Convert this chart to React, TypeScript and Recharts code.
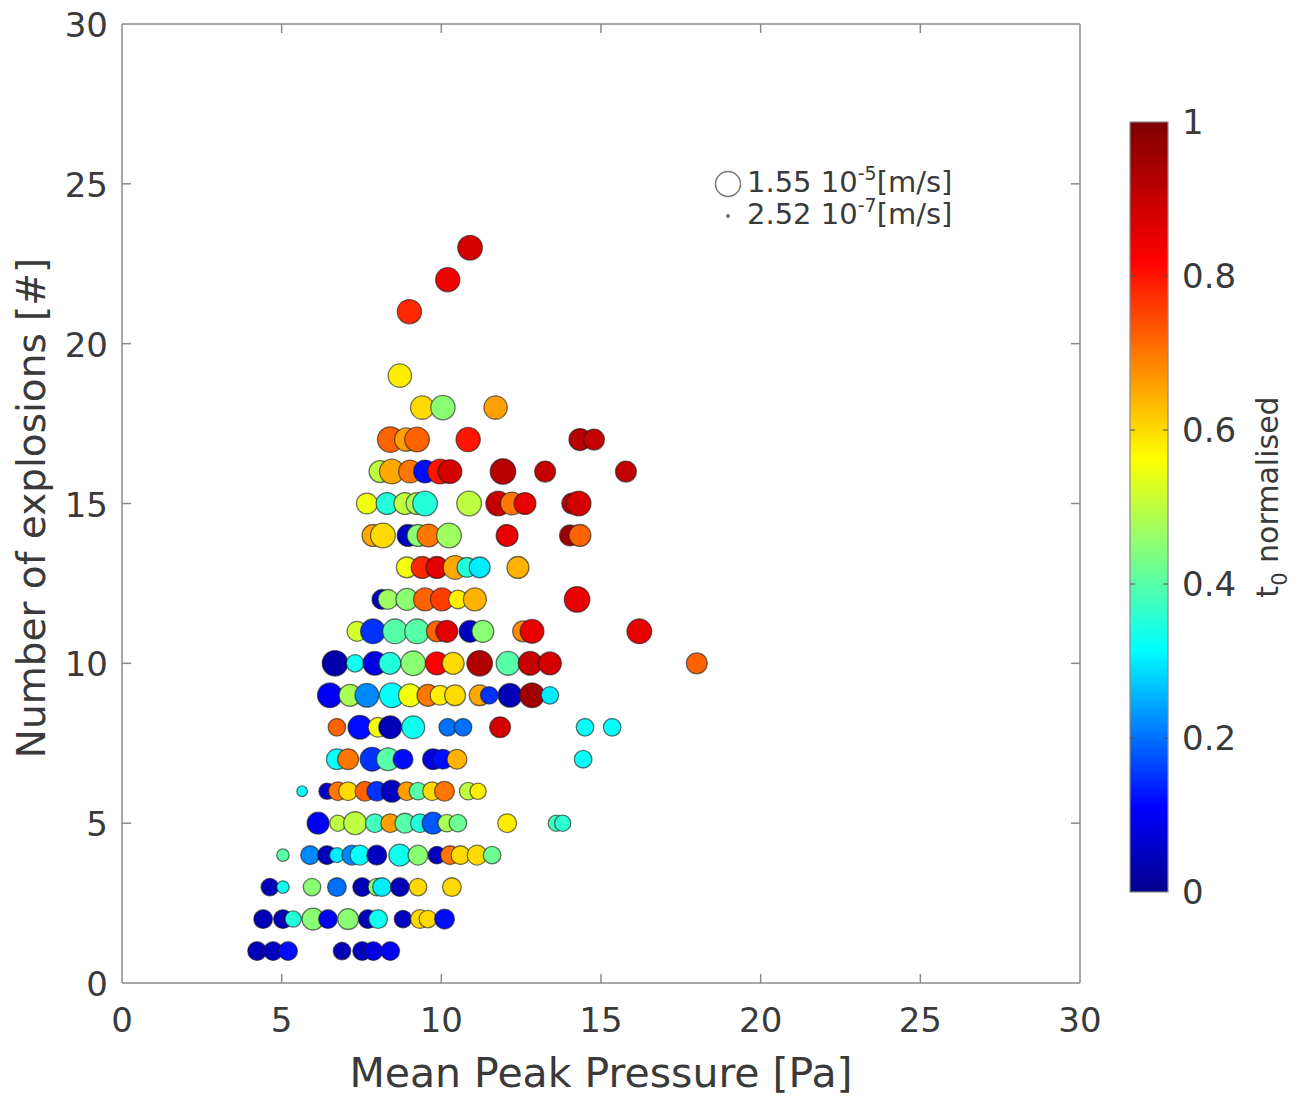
import React from "react";
import {
  ScatterChart,
  Scatter,
  XAxis,
  YAxis,
  ZAxis,
  ReferenceLine,
} from "recharts";

// one row per explosion count; values in each row share the same index
const EXPLOSIONS = [23, 22, 21, 19, 18, 17, 16, 15, 14, 13, 12, 11, 10, 9, 8, 7, 6, 5, 4, 3, 2, 1];

const PRESSURE = [
  [10.9],
  [10.2],
  [9.0],
  [8.7],
  [9.4, 10.05, 11.7],
  [8.4, 8.9, 9.24, 10.84, 14.34, 14.78],
  [8.08, 8.45, 9.02, 9.49, 9.96, 10.27, 11.93, 13.25, 15.78],
  [7.67, 8.3, 8.86, 9.24, 9.49, 10.87, 11.78, 12.21, 12.62, 14.1, 14.3],
  [7.86, 8.17, 8.96, 9.27, 9.6, 10.24, 12.06, 14.03, 14.34],
  [8.92, 9.4, 9.86, 10.43, 10.8, 11.2, 12.4],
  [8.14, 8.33, 8.92, 9.49, 10.02, 10.52, 11.05, 14.25],
  [7.36, 7.86, 8.55, 9.24, 9.86, 10.17, 10.9, 11.3, 12.56, 12.84, 16.2],
  [6.67, 7.3, 7.92, 8.39, 9.12, 9.86, 10.37, 11.2, 12.09, 12.78, 13.4, 18.0],
  [6.51, 7.14, 7.67, 8.45, 9.02, 9.58, 9.96, 10.43, 11.2, 11.5, 12.15, 12.84, 13.4],
  [6.73, 7.45, 8.02, 8.4, 9.12, 10.2, 10.68, 11.84, 14.5, 15.35],
  [6.73, 7.08, 7.83, 8.33, 8.8, 9.74, 10.05, 10.49, 14.44],
  [5.64, 6.42, 6.76, 7.08, 7.61, 7.98, 8.45, 8.92, 9.27, 9.71, 10.1, 10.84, 11.15],
  [6.14, 6.76, 7.3, 7.92, 8.4, 8.86, 9.33, 9.74, 10.17, 10.52, 12.06, 13.6, 13.8],
  [5.04, 5.89, 6.42, 6.73, 7.2, 7.45, 7.98, 8.7, 9.27, 9.86, 10.27, 10.6, 11.12, 11.59],
  [4.63, 5.04, 5.95, 6.73, 7.52, 7.98, 8.14, 8.7, 9.27, 10.33],
  [4.42, 5.04, 5.36, 5.98, 6.45, 7.08, 7.7, 8.02, 8.8, 9.33, 9.58, 10.1],
  [4.23, 4.73, 5.2, 6.89, 7.52, 7.87, 8.4],
];

const T0 = [
  [0.88],
  [0.84],
  [0.78],
  [0.58],
  [0.6, 0.45, 0.66],
  [0.72, 0.66, 0.72, 0.8, 0.92, 0.9],
  [0.5, 0.65, 0.7, 0.12, 0.8, 0.88, 0.92, 0.9, 0.9],
  [0.55, 0.35, 0.5, 0.48, 0.35, 0.5, 0.9, 0.7, 0.85, 0.92, 0.88],
  [0.65, 0.6, 0.05, 0.45, 0.7, 0.47, 0.85, 0.95, 0.72],
  [0.55, 0.78, 0.86, 0.65, 0.35, 0.3, 0.64],
  [0.05, 0.47, 0.45, 0.72, 0.76, 0.58, 0.64, 0.85],
  [0.52, 0.15, 0.4, 0.4, 0.72, 0.86, 0.05, 0.45, 0.68, 0.85, 0.85],
  [0.03, 0.33, 0.08, 0.35, 0.45, 0.82, 0.6, 0.93, 0.4, 0.9, 0.88, 0.72],
  [0.1, 0.48, 0.22, 0.32, 0.55, 0.7, 0.58, 0.6, 0.65, 0.15, 0.04, 0.95, 0.3],
  [0.72, 0.12, 0.55, 0.04, 0.33, 0.2, 0.2, 0.88, 0.32, 0.32],
  [0.32, 0.7, 0.15, 0.4, 0.12, 0.08, 0.12, 0.64, 0.32],
  [0.32, 0.05, 0.7, 0.6, 0.72, 0.15, 0.05, 0.66, 0.4, 0.6, 0.7, 0.5, 0.58],
  [0.1, 0.5, 0.5, 0.38, 0.66, 0.4, 0.35, 0.18, 0.48, 0.42, 0.58, 0.38, 0.36],
  [0.4, 0.22, 0.04, 0.3, 0.22, 0.32, 0.05, 0.33, 0.45, 0.05, 0.7, 0.6, 0.6, 0.42],
  [0.04, 0.33, 0.45, 0.2, 0.04, 0.45, 0.3, 0.04, 0.6, 0.6],
  [0.04, 0.04, 0.35, 0.45, 0.1, 0.45, 0.04, 0.33, 0.05, 0.6, 0.6, 0.12],
  [0.04, 0.05, 0.12, 0.04, 0.05, 0.08, 0.1],
];

// flow speed, in 1e-6 m/s
const SPEED = [
  [14],
  [13.5],
  [13.5],
  [12.5],
  [12.5, 13.5, 12.5],
  [15, 12.5, 14, 13.5, 11, 10],
  [11, 14, 12, 12, 14, 13, 15, 10, 10],
  [10, 11, 11, 11, 14, 14, 14, 12, 11, 10, 14],
  [11, 14, 11, 11, 12, 14, 11, 10, 11],
  [10, 11, 11, 13, 9, 10, 11],
  [9, 9, 11, 12, 12, 8, 12, 15],
  [9, 14, 14, 14, 10, 11, 11, 11, 10, 13, 14],
  [15, 7, 13, 11, 14, 12, 11, 15, 13, 13, 12, 10],
  [14, 11, 13, 14, 12, 11, 9, 10, 10, 7, 13, 14, 7],
  [7, 13, 9, 12, 12, 7, 7, 10, 7, 7],
  [10, 10, 13, 12, 9, 10, 9, 9, 7],
  [2.5, 6, 8, 8, 9, 9, 11, 8, 7, 8, 9, 7, 6],
  [11, 6, 12, 8, 8, 9, 8, 11, 7, 7, 8, 6, 6],
  [3.5, 8, 8, 5, 9, 9, 9, 11, 9, 7, 8, 8, 9, 7],
  [7, 3.5, 7, 8, 8, 7, 8, 8, 7, 8],
  [8, 8, 6, 11, 8, 10, 8, 8, 7, 8, 7, 9],
  [8, 8, 8, 7, 8, 8, 8],
];

const AXIS_TICKS = [0, 5, 10, 15, 20, 25, 30];
const COLORBAR_TICKS = [0, 0.2, 0.4, 0.6, 0.8, 1];
const SPEED_LEGEND = [
  { label: "1.55 10", exp: "-5", r: 12.5 },
  { label: "2.52 10", exp: "-7", r: 1.3 },
];

// colormap stops
const CMAP: [number, [number, number, number]][] = [
  [0, [0, 0, 140]],
  [0.11, [0, 0, 255]],
  [0.315, [0, 255, 255]],
  [0.563, [255, 255, 0]],
  [0.82, [255, 0, 0]],
  [1, [125, 0, 0]],
];

const Z_DOMAIN: [number, number] = [0.252, 15.5];
const Z_RANGE: [number, number] = [12, 530];

const data = EXPLOSIONS.flatMap((n, i) =>
  PRESSURE[i].map((p, j) => ({ x: p, y: n, z: SPEED[i][j], t0: T0[i][j] }))
);

const colorOf = (t: number) => {
  let k = 0;
  while (k < CMAP.length - 2 && t > CMAP[k + 1][0]) k++;
  const [t1, c1] = CMAP[k];
  const [t2, c2] = CMAP[k + 1];
  const f = Math.max(0, Math.min(1, (t - t1) / (t2 - t1)));
  const c = c1.map((v, i) => Math.round(v + (c2[i] - v) * f));
  return `rgb(${c[0]},${c[1]},${c[2]})`;
};
const radiusOf = (z: number) => {
  const a = Z_RANGE[0] + ((z - Z_DOMAIN[0]) / (Z_DOMAIN[1] - Z_DOMAIN[0])) * (Z_RANGE[1] - Z_RANGE[0]);
  return Math.sqrt(a / Math.PI);
};

const FONT = "'DejaVu Sans', Verdana, sans-serif";
const AXIS_GRAY = "#8a8a8a";
const TEXT = "#3a3a3a";
const PLOT = { left: 122, top: 24, right: 1080, bottom: 983 };

const Bubble = (props: any) => {
  const { cx, cy, payload } = props;
  const r = props.width ? props.width / 2 : radiusOf(payload.z);
  return (
    <circle
      cx={cx}
      cy={cy}
      r={r}
      fill={colorOf(payload.t0)}
      stroke="#1a1a1a"
      strokeOpacity={0.6}
      strokeWidth={1.3}
    />
  );
};

const XTick = ({ x, y, payload }: any) => (
  <g>
    {payload.value > 0 && payload.value < 30 && (
      <>
        <line x1={x} y1={PLOT.bottom} x2={x} y2={PLOT.bottom - 9} stroke={AXIS_GRAY} strokeWidth={1.5} />
        <line x1={x} y1={PLOT.top} x2={x} y2={PLOT.top + 9} stroke={AXIS_GRAY} strokeWidth={1.5} />
      </>
    )}
    <text x={x} y={y + 49} textAnchor="middle" fontSize={34} fontFamily={FONT} fill={TEXT}>
      {payload.value}
    </text>
  </g>
);

const YTick = ({ x, y, payload }: any) => (
  <g>
    {payload.value > 0 && payload.value < 30 && (
      <>
        <line x1={PLOT.left} y1={y} x2={PLOT.left + 9} y2={y} stroke={AXIS_GRAY} strokeWidth={1.5} />
        <line x1={PLOT.right} y1={y} x2={PLOT.right - 9} y2={y} stroke={AXIS_GRAY} strokeWidth={1.5} />
      </>
    )}
    <text x={x - 14} y={y + 13} textAnchor="end" fontSize={34} fontFamily={FONT} fill={TEXT}>
      {payload.value}
    </text>
  </g>
);

const CB = { x: 1130, top: 122, bottom: 892, w: 38 };
const cbY = (v: number) => CB.bottom - v * (CB.bottom - CB.top);

const Overlay = () => (
  <svg
    width={1305}
    height={1097}
    style={{ position: "absolute", left: 0, top: 0, pointerEvents: "none" }}
  >
    <defs>
      <linearGradient id="cmap" x1="0" y1="1" x2="0" y2="0">
        {CMAP.map(([s]) => (
          <stop key={s} offset={s} stopColor={colorOf(s)} />
        ))}
      </linearGradient>
    </defs>
    <rect x={CB.x} y={CB.top} width={CB.w} height={CB.bottom - CB.top} fill="url(#cmap)" stroke={AXIS_GRAY} strokeWidth={1.2} />
    {COLORBAR_TICKS.map((v) => (
      <g key={v}>
        {v > 0 && v < 1 && (
          <>
            <line x1={CB.x} y1={cbY(v)} x2={CB.x + 5} y2={cbY(v)} stroke="#555" strokeWidth={1} />
            <line x1={CB.x + CB.w} y1={cbY(v)} x2={CB.x + CB.w - 5} y2={cbY(v)} stroke="#555" strokeWidth={1} />
          </>
        )}
        <text x={CB.x + 52} y={cbY(v) + 12} fontSize={34} fontFamily={FONT} fill={TEXT}>
          {v}
        </text>
      </g>
    ))}
    <text
      transform="translate(1278,497) rotate(-90)"
      textAnchor="middle"
      fontSize={30}
      fontFamily={FONT}
      fill={TEXT}
    >
      t<tspan fontSize={21} dy={9}>0</tspan>
      <tspan dy={-9}> normalised</tspan>
    </text>

    {SPEED_LEGEND.map((s, i) => (
      <g key={s.exp}>
        <circle
          cx={728}
          cy={184 + i * 32}
          r={s.r}
          fill={i === 0 ? "none" : "#777"}
          stroke="#777"
          strokeWidth={1.5}
        />
        <text x={747} y={192 + i * 32} fontSize={29} fontFamily={FONT} fill={TEXT}>
          {s.label}
          <tspan fontSize={19} dy={-12}>{s.exp}</tspan>
          <tspan dy={12}>[m/s]</tspan>
        </text>
      </g>
    ))}

    <text x={601} y={1087} textAnchor="middle" fontSize={41} fontFamily={FONT} fill={TEXT}>
      Mean Peak Pressure [Pa]
    </text>
    <text
      transform="translate(45,508) rotate(-90)"
      textAnchor="middle"
      fontSize={39}
      fontFamily={FONT}
      fill={TEXT}
    >
      Number of explosions [#]
    </text>
  </svg>
);

export default function App() {
  return (
    <div style={{ position: "absolute", left: 0, top: 0, width: 1305, height: 1097, background: "#fff" }}>
      <ScatterChart
        width={1305}
        height={1097}
        margin={{ top: 24, right: 225, bottom: 54, left: 62 }}
      >
        <XAxis
          type="number"
          dataKey="x"
          domain={[0, 30]}
          ticks={AXIS_TICKS}
          height={60}
          tickSize={0}
          tickMargin={0}
          tickLine={false}
          axisLine={{ stroke: AXIS_GRAY, strokeWidth: 1.5 }}
          tick={<XTick />}
          interval={0}
        />
        <YAxis
          type="number"
          dataKey="y"
          domain={[0, 30]}
          ticks={AXIS_TICKS}
          width={60}
          tickSize={0}
          tickMargin={0}
          tickLine={false}
          axisLine={{ stroke: AXIS_GRAY, strokeWidth: 1.5 }}
          tick={<YTick />}
          interval={0}
        />
        <ZAxis type="number" dataKey="z" domain={Z_DOMAIN} range={Z_RANGE} />
        <ReferenceLine y={30} stroke={AXIS_GRAY} strokeWidth={1.5} />
        <ReferenceLine x={30} stroke={AXIS_GRAY} strokeWidth={1.5} />
        <Scatter data={data} shape={<Bubble />} isAnimationActive={false} />
      </ScatterChart>
      <Overlay />
    </div>
  );
}
